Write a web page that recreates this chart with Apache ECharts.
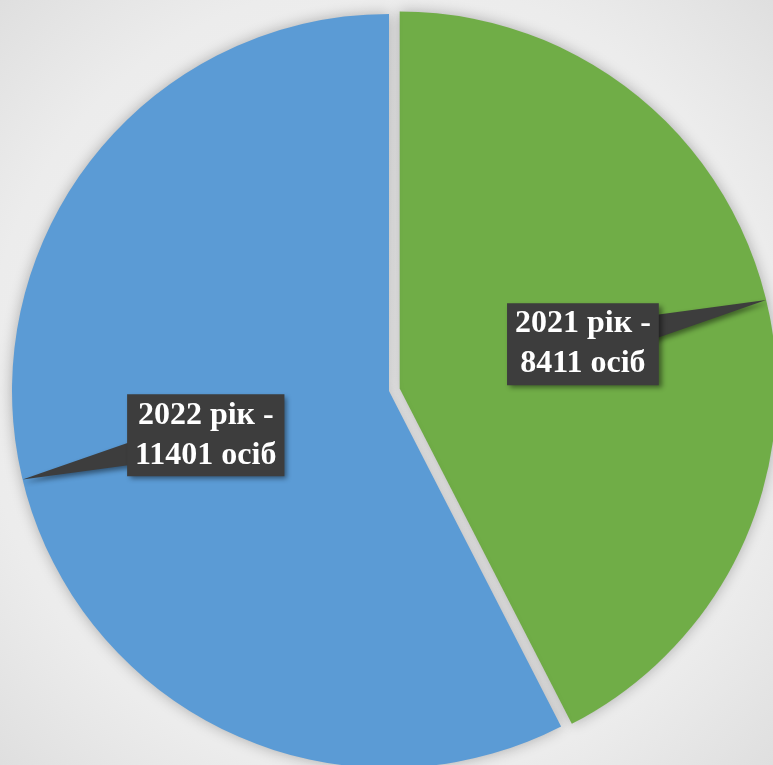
<!DOCTYPE html>
<html>
<head>
<meta charset="utf-8">
<script src="https://cdn.jsdelivr.net/npm/echarts@6/dist/echarts.min.js"></script>
<style>
  html, body { margin: 0; padding: 0; }
  #chart { width: 773px; height: 765px; }
</style>
</head>
<body>
<div id="chart"></div>
<script>
// дані діаграми
const years = ['2021', '2022'];
const persons = [8411, 11401];
const colors = ['#70AD47', '#5B9BD5'];
const explodedIndex = 0; // сектор 2021 року винесено

const chart = echarts.init(document.getElementById('chart'));

chart.setOption({
  animation: false,
  backgroundColor: {
    type: 'radial',
    x: 0.5,
    y: 0.5,
    r: 0.75,
    colorStops: [
      { offset: 0, color: '#f4f4f4' },
      { offset: 0.7, color: '#ececec' },
      { offset: 1, color: '#dcdcdc' },
    ],
  },
  series: [{
    type: 'pie',
    center: [389, 391],
    radius: 377,
    startAngle: 90,
    clockwise: true,
    selectedMode: 'single',
    selectedOffset: 11,
    emphasis: { disabled: true },
    select: { itemStyle: { shadowBlur: 14, shadowColor: 'rgba(0, 0, 0, 0.28)' } },
    label: { show: false },
    labelLine: { show: false },
    itemStyle: {
      shadowBlur: 14,
      shadowColor: 'rgba(0, 0, 0, 0.28)',
    },
    data: persons.map((value, index) => ({
      name: years[index],
      value,
      selected: index === explodedIndex,
      itemStyle: { color: colors[index] },
    })),
  }],
});

// виноски з хвостиком, розташовані за розкладкою секторів
function drawCallouts() {
  const seriesData = chart.getModel().getSeriesByIndex(0).getData();
  const elements = [];
  persons.forEach((value, index) => {
    const layout = seriesData.getItemLayout(index);
    const mid = (layout.startAngle + layout.endAngle) / 2;
    const dx = Math.cos(mid);
    const dy = Math.sin(mid);
    const off = index === explodedIndex ? 11 : 0;
    const cx = layout.cx + dx * off;
    const cy = layout.cy + dy * off;
    const tip = [cx + dx * layout.r, cy + dy * layout.r];
    const lx = cx + dx * layout.r / 2;
    const ly = cy + dy * layout.r / 2;
    elements.push({
      type: 'polygon',
      z: 10,
      shape: { points: [tip, [lx, ly - 19.5], [lx, ly + 19.5]] },
      style: {
        fill: '#3d3d3d',
        shadowBlur: 5,
        shadowColor: 'rgba(0, 0, 0, 0.45)',
        shadowOffsetX: 2,
        shadowOffsetY: 3,
      },
    });
    elements.push({
      type: 'text',
      z: 11,
      x: lx,
      y: ly,
      style: {
        text: years[index] + ' рік -\n' + value + ' осіб',
        font: 'bold 32px "Times New Roman", "Liberation Serif", serif',
        fill: '#ffffff',
        align: 'center',
        verticalAlign: 'middle',
        lineHeight: 40,
        backgroundColor: '#3d3d3d',
        padding: [1, 8],
        shadowBlur: 5,
        shadowColor: 'rgba(0, 0, 0, 0.45)',
        shadowOffsetX: 3,
        shadowOffsetY: 3,
      },
    });
  });
  chart.setOption({ graphic: { elements } });
}

drawCallouts();
</script>
</body>
</html>
